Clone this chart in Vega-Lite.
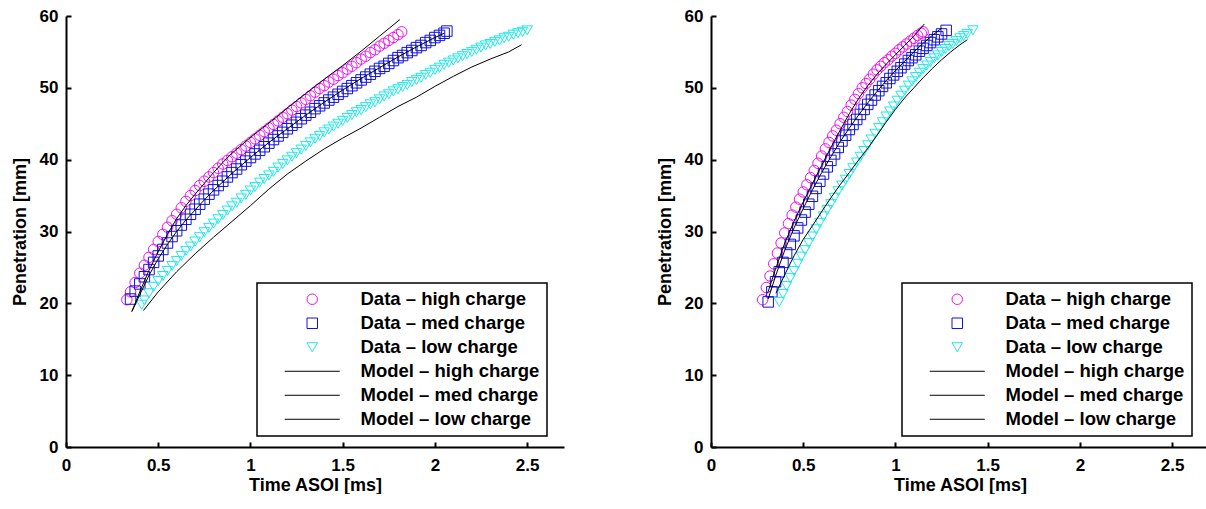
{
"$schema": "https://vega.github.io/schema/vega-lite/v6.json",
"padding": {"left": 11, "top": 7, "right": 0, "bottom": 0},
"background": "white",
"config": {
 "view": {"stroke": null},
 "font": "Liberation Sans",
 "axis": {"domainColor": "black", "domainWidth": 2, "tickColor": "black", "tickWidth": 2, "tickSize": -5, "grid": false, "labelFont": "Liberation Sans", "labelFontSize": 17, "labelFontWeight": "bold", "labelColor": "black", "titleFont": "Liberation Sans", "titleFontSize": 18, "titleFontWeight": "bold", "titleColor": "black", "labelFlush": false},
 "axisX": {"labelPadding": 15, "titlePadding": 3},
 "axisY": {"labelPadding": 13, "titlePadding": 10},
 "legend": {"strokeColor": "black", "strokeWidth": 1.5, "fillColor": "white", "padding": 7, "rowPadding": 5, "labelFont": "Liberation Sans", "labelFontSize": 18.5, "labelFontWeight": "bold", "labelColor": "black", "symbolOffset": 39, "labelOffset": 39, "symbolSize": 110, "symbolStrokeWidth": 1, "labelLimit": 0}
},
"datasets": {
"left": [
{"s":"dh","t":0.33,"v":20.5},{"s":"dh","t":0.35,"v":21.6},{"s":"dh","t":0.375,"v":22.9},{"s":"dh","t":0.4,"v":24.2},{"s":"dh","t":0.425,"v":25.3},{"s":"dh","t":0.45,"v":26.4},{"s":"dh","t":0.475,"v":27.5},{"s":"dh","t":0.5,"v":28.6},{"s":"dh","t":0.525,"v":29.6},{"s":"dh","t":0.55,"v":30.6},{"s":"dh","t":0.575,"v":31.5},{"s":"dh","t":0.6,"v":32.4},{"s":"dh","t":0.625,"v":33.3},{"s":"dh","t":0.65,"v":34.2},{"s":"dh","t":0.675,"v":35.0},{"s":"dh","t":0.7,"v":35.7},{"s":"dh","t":0.725,"v":36.4},{"s":"dh","t":0.75,"v":37.0},{"s":"dh","t":0.775,"v":37.6},{"s":"dh","t":0.8,"v":38.2},{"s":"dh","t":0.825,"v":38.8},{"s":"dh","t":0.85,"v":39.4},{"s":"dh","t":0.875,"v":39.9},{"s":"dh","t":0.9,"v":40.4},{"s":"dh","t":0.925,"v":40.9},{"s":"dh","t":0.95,"v":41.4},{"s":"dh","t":0.975,"v":41.9},{"s":"dh","t":1.0,"v":42.4},{"s":"dh","t":1.025,"v":42.9},{"s":"dh","t":1.05,"v":43.4},{"s":"dh","t":1.075,"v":43.9},{"s":"dh","t":1.1,"v":44.4},{"s":"dh","t":1.125,"v":44.9},{"s":"dh","t":1.15,"v":45.4},{"s":"dh","t":1.175,"v":45.9},{"s":"dh","t":1.2,"v":46.4},{"s":"dh","t":1.225,"v":46.9},{"s":"dh","t":1.25,"v":47.4},{"s":"dh","t":1.275,"v":47.9},{"s":"dh","t":1.3,"v":48.4},{"s":"dh","t":1.325,"v":48.9},{"s":"dh","t":1.35,"v":49.4},{"s":"dh","t":1.375,"v":49.9},{"s":"dh","t":1.4,"v":50.3},{"s":"dh","t":1.425,"v":50.8},{"s":"dh","t":1.45,"v":51.2},{"s":"dh","t":1.475,"v":51.7},{"s":"dh","t":1.5,"v":52.1},{"s":"dh","t":1.525,"v":52.6},{"s":"dh","t":1.55,"v":53.0},{"s":"dh","t":1.575,"v":53.5},{"s":"dh","t":1.6,"v":54.0},{"s":"dh","t":1.625,"v":54.4},{"s":"dh","t":1.65,"v":54.9},{"s":"dh","t":1.675,"v":55.3},{"s":"dh","t":1.7,"v":55.8},{"s":"dh","t":1.725,"v":56.2},{"s":"dh","t":1.75,"v":56.6},{"s":"dh","t":1.775,"v":57.0},{"s":"dh","t":1.8,"v":57.4},{"s":"dh","t":1.82,"v":57.8},
{"s":"dm","t":0.35,"v":20.6},{"s":"dm","t":0.375,"v":21.7},{"s":"dm","t":0.4,"v":22.7},{"s":"dm","t":0.425,"v":23.7},{"s":"dm","t":0.45,"v":24.7},{"s":"dm","t":0.475,"v":25.7},{"s":"dm","t":0.5,"v":26.6},{"s":"dm","t":0.525,"v":27.5},{"s":"dm","t":0.55,"v":28.4},{"s":"dm","t":0.575,"v":29.3},{"s":"dm","t":0.6,"v":30.1},{"s":"dm","t":0.625,"v":30.9},{"s":"dm","t":0.65,"v":31.7},{"s":"dm","t":0.675,"v":32.4},{"s":"dm","t":0.7,"v":33.1},{"s":"dm","t":0.725,"v":33.8},{"s":"dm","t":0.75,"v":34.5},{"s":"dm","t":0.775,"v":35.2},{"s":"dm","t":0.8,"v":35.8},{"s":"dm","t":0.825,"v":36.4},{"s":"dm","t":0.85,"v":37.0},{"s":"dm","t":0.875,"v":37.6},{"s":"dm","t":0.9,"v":38.2},{"s":"dm","t":0.925,"v":38.7},{"s":"dm","t":0.95,"v":39.3},{"s":"dm","t":0.975,"v":39.8},{"s":"dm","t":1.0,"v":40.3},{"s":"dm","t":1.025,"v":40.8},{"s":"dm","t":1.05,"v":41.3},{"s":"dm","t":1.075,"v":41.8},{"s":"dm","t":1.1,"v":42.3},{"s":"dm","t":1.125,"v":42.8},{"s":"dm","t":1.15,"v":43.3},{"s":"dm","t":1.175,"v":43.8},{"s":"dm","t":1.2,"v":44.3},{"s":"dm","t":1.225,"v":44.8},{"s":"dm","t":1.25,"v":45.2},{"s":"dm","t":1.275,"v":45.7},{"s":"dm","t":1.3,"v":46.2},{"s":"dm","t":1.325,"v":46.6},{"s":"dm","t":1.35,"v":47.1},{"s":"dm","t":1.375,"v":47.5},{"s":"dm","t":1.4,"v":47.9},{"s":"dm","t":1.425,"v":48.3},{"s":"dm","t":1.45,"v":48.7},{"s":"dm","t":1.475,"v":49.1},{"s":"dm","t":1.5,"v":49.5},{"s":"dm","t":1.525,"v":49.9},{"s":"dm","t":1.55,"v":50.3},{"s":"dm","t":1.575,"v":50.7},{"s":"dm","t":1.6,"v":51.1},{"s":"dm","t":1.625,"v":51.5},{"s":"dm","t":1.65,"v":51.9},{"s":"dm","t":1.675,"v":52.3},{"s":"dm","t":1.7,"v":52.7},{"s":"dm","t":1.725,"v":53.0},{"s":"dm","t":1.75,"v":53.4},{"s":"dm","t":1.775,"v":53.8},{"s":"dm","t":1.8,"v":54.2},{"s":"dm","t":1.825,"v":54.5},{"s":"dm","t":1.85,"v":54.9},{"s":"dm","t":1.875,"v":55.2},{"s":"dm","t":1.9,"v":55.6},{"s":"dm","t":1.925,"v":55.9},{"s":"dm","t":1.95,"v":56.3},{"s":"dm","t":1.975,"v":56.6},{"s":"dm","t":2.0,"v":57.0},{"s":"dm","t":2.025,"v":57.3},{"s":"dm","t":2.05,"v":57.6},{"s":"dm","t":2.065,"v":57.9},
{"s":"dl","t":0.41,"v":19.8},{"s":"dl","t":0.425,"v":20.4},{"s":"dl","t":0.45,"v":21.4},{"s":"dl","t":0.475,"v":22.3},{"s":"dl","t":0.5,"v":23.1},{"s":"dl","t":0.525,"v":23.8},{"s":"dl","t":0.55,"v":24.5},{"s":"dl","t":0.575,"v":25.2},{"s":"dl","t":0.6,"v":25.9},{"s":"dl","t":0.625,"v":26.6},{"s":"dl","t":0.65,"v":27.3},{"s":"dl","t":0.675,"v":27.9},{"s":"dl","t":0.7,"v":28.6},{"s":"dl","t":0.725,"v":29.2},{"s":"dl","t":0.75,"v":29.9},{"s":"dl","t":0.775,"v":30.5},{"s":"dl","t":0.8,"v":31.1},{"s":"dl","t":0.825,"v":31.7},{"s":"dl","t":0.85,"v":32.3},{"s":"dl","t":0.875,"v":32.9},{"s":"dl","t":0.9,"v":33.5},{"s":"dl","t":0.925,"v":34.0},{"s":"dl","t":0.95,"v":34.6},{"s":"dl","t":0.975,"v":35.1},{"s":"dl","t":1.0,"v":35.7},{"s":"dl","t":1.025,"v":36.2},{"s":"dl","t":1.05,"v":36.8},{"s":"dl","t":1.075,"v":37.3},{"s":"dl","t":1.1,"v":37.8},{"s":"dl","t":1.125,"v":38.3},{"s":"dl","t":1.15,"v":38.9},{"s":"dl","t":1.175,"v":39.4},{"s":"dl","t":1.2,"v":39.9},{"s":"dl","t":1.225,"v":40.4},{"s":"dl","t":1.25,"v":40.9},{"s":"dl","t":1.275,"v":41.4},{"s":"dl","t":1.3,"v":41.9},{"s":"dl","t":1.325,"v":42.4},{"s":"dl","t":1.35,"v":42.9},{"s":"dl","t":1.375,"v":43.3},{"s":"dl","t":1.4,"v":43.8},{"s":"dl","t":1.425,"v":44.2},{"s":"dl","t":1.45,"v":44.6},{"s":"dl","t":1.475,"v":45.0},{"s":"dl","t":1.5,"v":45.4},{"s":"dl","t":1.525,"v":45.8},{"s":"dl","t":1.55,"v":46.2},{"s":"dl","t":1.575,"v":46.6},{"s":"dl","t":1.6,"v":46.9},{"s":"dl","t":1.625,"v":47.3},{"s":"dl","t":1.65,"v":47.7},{"s":"dl","t":1.675,"v":48.0},{"s":"dl","t":1.7,"v":48.4},{"s":"dl","t":1.725,"v":48.8},{"s":"dl","t":1.75,"v":49.1},{"s":"dl","t":1.775,"v":49.5},{"s":"dl","t":1.8,"v":49.8},{"s":"dl","t":1.825,"v":50.1},{"s":"dl","t":1.85,"v":50.4},{"s":"dl","t":1.875,"v":50.8},{"s":"dl","t":1.9,"v":51.1},{"s":"dl","t":1.925,"v":51.4},{"s":"dl","t":1.95,"v":51.8},{"s":"dl","t":1.975,"v":52.1},{"s":"dl","t":2.0,"v":52.5},{"s":"dl","t":2.025,"v":52.8},{"s":"dl","t":2.05,"v":53.2},{"s":"dl","t":2.075,"v":53.5},{"s":"dl","t":2.1,"v":53.8},{"s":"dl","t":2.125,"v":54.1},{"s":"dl","t":2.15,"v":54.4},{"s":"dl","t":2.175,"v":54.7},{"s":"dl","t":2.2,"v":55.0},{"s":"dl","t":2.225,"v":55.3},{"s":"dl","t":2.25,"v":55.6},{"s":"dl","t":2.275,"v":55.9},{"s":"dl","t":2.3,"v":56.1},{"s":"dl","t":2.325,"v":56.4},{"s":"dl","t":2.35,"v":56.6},{"s":"dl","t":2.375,"v":56.9},{"s":"dl","t":2.4,"v":57.1},{"s":"dl","t":2.425,"v":57.4},{"s":"dl","t":2.45,"v":57.6},{"s":"dl","t":2.475,"v":57.8},{"s":"dl","t":2.5,"v":58.0},
{"s":"mh","t":0.356,"v":18.8},{"s":"mh","t":0.4,"v":21.6},{"s":"mh","t":0.45,"v":24.6},{"s":"mh","t":0.5,"v":27.2},{"s":"mh","t":0.55,"v":29.6},{"s":"mh","t":0.6,"v":31.8},{"s":"mh","t":0.65,"v":33.6},{"s":"mh","t":0.7,"v":35.2},{"s":"mh","t":0.75,"v":36.7},{"s":"mh","t":0.8,"v":38.2},{"s":"mh","t":0.85,"v":39.6},{"s":"mh","t":0.9,"v":40.9},{"s":"mh","t":0.95,"v":42.0},{"s":"mh","t":1.0,"v":43.1},{"s":"mh","t":1.05,"v":44.1},{"s":"mh","t":1.1,"v":45.1},{"s":"mh","t":1.15,"v":46.1},{"s":"mh","t":1.2,"v":47.2},{"s":"mh","t":1.3,"v":49.2},{"s":"mh","t":1.4,"v":51.2},{"s":"mh","t":1.5,"v":53.1},{"s":"mh","t":1.6,"v":55.1},{"s":"mh","t":1.7,"v":57.2},{"s":"mh","t":1.81,"v":59.5},
{"s":"mm","t":0.36,"v":19.0},{"s":"mm","t":0.4,"v":21.2},{"s":"mm","t":0.45,"v":23.9},{"s":"mm","t":0.5,"v":26.2},{"s":"mm","t":0.55,"v":28.2},{"s":"mm","t":0.6,"v":30.0},{"s":"mm","t":0.65,"v":31.6},{"s":"mm","t":0.7,"v":33.0},{"s":"mm","t":0.75,"v":34.4},{"s":"mm","t":0.8,"v":35.7},{"s":"mm","t":0.85,"v":36.9},{"s":"mm","t":0.9,"v":38.1},{"s":"mm","t":1.0,"v":40.3},{"s":"mm","t":1.1,"v":42.4},{"s":"mm","t":1.2,"v":44.3},{"s":"mm","t":1.3,"v":46.2},{"s":"mm","t":1.4,"v":48.0},{"s":"mm","t":1.5,"v":49.7},{"s":"mm","t":1.6,"v":51.3},{"s":"mm","t":1.7,"v":52.8},{"s":"mm","t":1.8,"v":54.3},{"s":"mm","t":1.9,"v":55.7},{"s":"mm","t":2.0,"v":57.0},{"s":"mm","t":2.05,"v":57.6},
{"s":"ml","t":0.42,"v":19.0},{"s":"ml","t":0.5,"v":21.6},{"s":"ml","t":0.6,"v":24.4},{"s":"ml","t":0.7,"v":26.9},{"s":"ml","t":0.8,"v":29.2},{"s":"ml","t":0.9,"v":31.4},{"s":"ml","t":1.0,"v":33.6},{"s":"ml","t":1.1,"v":35.9},{"s":"ml","t":1.2,"v":38.0},{"s":"ml","t":1.3,"v":39.8},{"s":"ml","t":1.4,"v":41.5},{"s":"ml","t":1.5,"v":43.0},{"s":"ml","t":1.6,"v":44.4},{"s":"ml","t":1.7,"v":45.9},{"s":"ml","t":1.8,"v":47.4},{"s":"ml","t":1.9,"v":48.7},{"s":"ml","t":2.0,"v":50.2},{"s":"ml","t":2.1,"v":51.6},{"s":"ml","t":2.2,"v":52.9},{"s":"ml","t":2.3,"v":54.0},{"s":"ml","t":2.4,"v":55.0},{"s":"ml","t":2.47,"v":56.0}
],
"right": [
{"s":"dh","t":0.28,"v":20.5},{"s":"dh","t":0.3,"v":22.2},{"s":"dh","t":0.32,"v":23.8},{"s":"dh","t":0.34,"v":25.5},{"s":"dh","t":0.36,"v":27.0},{"s":"dh","t":0.38,"v":28.4},{"s":"dh","t":0.4,"v":29.8},{"s":"dh","t":0.42,"v":31.1},{"s":"dh","t":0.44,"v":32.3},{"s":"dh","t":0.46,"v":33.4},{"s":"dh","t":0.48,"v":34.5},{"s":"dh","t":0.5,"v":35.5},{"s":"dh","t":0.52,"v":36.5},{"s":"dh","t":0.54,"v":37.5},{"s":"dh","t":0.56,"v":38.5},{"s":"dh","t":0.58,"v":39.5},{"s":"dh","t":0.6,"v":40.5},{"s":"dh","t":0.62,"v":41.5},{"s":"dh","t":0.64,"v":42.4},{"s":"dh","t":0.66,"v":43.3},{"s":"dh","t":0.68,"v":44.1},{"s":"dh","t":0.7,"v":45.0},{"s":"dh","t":0.72,"v":45.9},{"s":"dh","t":0.74,"v":46.7},{"s":"dh","t":0.76,"v":47.6},{"s":"dh","t":0.78,"v":48.4},{"s":"dh","t":0.8,"v":49.2},{"s":"dh","t":0.82,"v":50.0},{"s":"dh","t":0.84,"v":50.6},{"s":"dh","t":0.86,"v":51.2},{"s":"dh","t":0.88,"v":51.9},{"s":"dh","t":0.9,"v":52.5},{"s":"dh","t":0.92,"v":53.0},{"s":"dh","t":0.94,"v":53.5},{"s":"dh","t":0.96,"v":53.9},{"s":"dh","t":0.98,"v":54.4},{"s":"dh","t":1.0,"v":54.8},{"s":"dh","t":1.02,"v":55.3},{"s":"dh","t":1.04,"v":55.7},{"s":"dh","t":1.06,"v":56.1},{"s":"dh","t":1.08,"v":56.5},{"s":"dh","t":1.1,"v":56.9},{"s":"dh","t":1.12,"v":57.3},{"s":"dh","t":1.14,"v":57.6},{"s":"dh","t":1.15,"v":57.8},
{"s":"dm","t":0.31,"v":20.2},{"s":"dm","t":0.33,"v":21.6},{"s":"dm","t":0.35,"v":23.0},{"s":"dm","t":0.37,"v":24.4},{"s":"dm","t":0.39,"v":25.7},{"s":"dm","t":0.41,"v":27.0},{"s":"dm","t":0.43,"v":28.2},{"s":"dm","t":0.45,"v":29.4},{"s":"dm","t":0.47,"v":30.5},{"s":"dm","t":0.49,"v":31.6},{"s":"dm","t":0.51,"v":32.7},{"s":"dm","t":0.53,"v":33.8},{"s":"dm","t":0.55,"v":34.9},{"s":"dm","t":0.57,"v":36.0},{"s":"dm","t":0.59,"v":37.0},{"s":"dm","t":0.61,"v":38.0},{"s":"dm","t":0.63,"v":39.0},{"s":"dm","t":0.65,"v":39.9},{"s":"dm","t":0.67,"v":40.8},{"s":"dm","t":0.69,"v":41.7},{"s":"dm","t":0.71,"v":42.6},{"s":"dm","t":0.73,"v":43.4},{"s":"dm","t":0.75,"v":44.2},{"s":"dm","t":0.77,"v":44.9},{"s":"dm","t":0.79,"v":45.6},{"s":"dm","t":0.81,"v":46.3},{"s":"dm","t":0.83,"v":47.0},{"s":"dm","t":0.85,"v":47.7},{"s":"dm","t":0.87,"v":48.3},{"s":"dm","t":0.89,"v":49.0},{"s":"dm","t":0.91,"v":49.6},{"s":"dm","t":0.93,"v":50.2},{"s":"dm","t":0.95,"v":50.7},{"s":"dm","t":0.97,"v":51.3},{"s":"dm","t":0.99,"v":51.8},{"s":"dm","t":1.01,"v":52.3},{"s":"dm","t":1.03,"v":52.8},{"s":"dm","t":1.05,"v":53.3},{"s":"dm","t":1.07,"v":53.8},{"s":"dm","t":1.09,"v":54.2},{"s":"dm","t":1.11,"v":54.6},{"s":"dm","t":1.13,"v":55.1},{"s":"dm","t":1.15,"v":55.5},{"s":"dm","t":1.17,"v":55.9},{"s":"dm","t":1.19,"v":56.3},{"s":"dm","t":1.21,"v":56.7},{"s":"dm","t":1.23,"v":57.1},{"s":"dm","t":1.25,"v":57.5},{"s":"dm","t":1.275,"v":58.0},
{"s":"dl","t":0.37,"v":20.2},{"s":"dl","t":0.39,"v":21.3},{"s":"dl","t":0.41,"v":22.4},{"s":"dl","t":0.43,"v":23.5},{"s":"dl","t":0.45,"v":24.5},{"s":"dl","t":0.47,"v":25.5},{"s":"dl","t":0.49,"v":26.5},{"s":"dl","t":0.51,"v":27.4},{"s":"dl","t":0.53,"v":28.4},{"s":"dl","t":0.55,"v":29.3},{"s":"dl","t":0.57,"v":30.3},{"s":"dl","t":0.59,"v":31.2},{"s":"dl","t":0.61,"v":32.1},{"s":"dl","t":0.63,"v":33.0},{"s":"dl","t":0.65,"v":33.8},{"s":"dl","t":0.67,"v":34.7},{"s":"dl","t":0.69,"v":35.6},{"s":"dl","t":0.71,"v":36.4},{"s":"dl","t":0.73,"v":37.2},{"s":"dl","t":0.75,"v":38.0},{"s":"dl","t":0.77,"v":38.8},{"s":"dl","t":0.79,"v":39.6},{"s":"dl","t":0.81,"v":40.4},{"s":"dl","t":0.83,"v":41.2},{"s":"dl","t":0.85,"v":42.0},{"s":"dl","t":0.87,"v":42.8},{"s":"dl","t":0.89,"v":43.6},{"s":"dl","t":0.91,"v":44.4},{"s":"dl","t":0.93,"v":45.2},{"s":"dl","t":0.95,"v":46.0},{"s":"dl","t":0.97,"v":46.7},{"s":"dl","t":0.99,"v":47.4},{"s":"dl","t":1.01,"v":48.2},{"s":"dl","t":1.03,"v":48.9},{"s":"dl","t":1.05,"v":49.6},{"s":"dl","t":1.07,"v":50.3},{"s":"dl","t":1.09,"v":50.9},{"s":"dl","t":1.11,"v":51.5},{"s":"dl","t":1.13,"v":52.1},{"s":"dl","t":1.15,"v":52.6},{"s":"dl","t":1.17,"v":53.1},{"s":"dl","t":1.19,"v":53.6},{"s":"dl","t":1.21,"v":54.1},{"s":"dl","t":1.23,"v":54.5},{"s":"dl","t":1.25,"v":55.0},{"s":"dl","t":1.27,"v":55.4},{"s":"dl","t":1.29,"v":55.8},{"s":"dl","t":1.31,"v":56.1},{"s":"dl","t":1.33,"v":56.5},{"s":"dl","t":1.35,"v":56.9},{"s":"dl","t":1.37,"v":57.2},{"s":"dl","t":1.39,"v":57.5},{"s":"dl","t":1.42,"v":58.0},
{"s":"mh","t":0.307,"v":21.4},{"s":"mh","t":0.35,"v":24.8},{"s":"mh","t":0.4,"v":28.4},{"s":"mh","t":0.45,"v":31.4},{"s":"mh","t":0.5,"v":34.1},{"s":"mh","t":0.55,"v":36.7},{"s":"mh","t":0.6,"v":39.2},{"s":"mh","t":0.65,"v":41.7},{"s":"mh","t":0.7,"v":44.1},{"s":"mh","t":0.75,"v":46.4},{"s":"mh","t":0.8,"v":48.5},{"s":"mh","t":0.85,"v":50.3},{"s":"mh","t":0.9,"v":51.9},{"s":"mh","t":0.95,"v":53.3},{"s":"mh","t":1.0,"v":54.6},{"s":"mh","t":1.05,"v":55.9},{"s":"mh","t":1.1,"v":57.2},{"s":"mh","t":1.157,"v":58.9},
{"s":"mm","t":0.31,"v":20.6},{"s":"mm","t":0.35,"v":23.8},{"s":"mm","t":0.4,"v":27.4},{"s":"mm","t":0.45,"v":30.5},{"s":"mm","t":0.5,"v":33.2},{"s":"mm","t":0.55,"v":35.8},{"s":"mm","t":0.6,"v":38.2},{"s":"mm","t":0.65,"v":40.4},{"s":"mm","t":0.7,"v":42.5},{"s":"mm","t":0.75,"v":44.4},{"s":"mm","t":0.8,"v":46.2},{"s":"mm","t":0.85,"v":47.9},{"s":"mm","t":0.9,"v":49.5},{"s":"mm","t":0.95,"v":51.0},{"s":"mm","t":1.0,"v":52.4},{"s":"mm","t":1.05,"v":53.7},{"s":"mm","t":1.1,"v":55.0},{"s":"mm","t":1.15,"v":56.2},{"s":"mm","t":1.2,"v":57.3},{"s":"mm","t":1.25,"v":58.3},
{"s":"ml","t":0.352,"v":21.4},{"s":"ml","t":0.4,"v":24.0},{"s":"ml","t":0.45,"v":26.6},{"s":"ml","t":0.5,"v":28.9},{"s":"ml","t":0.55,"v":30.8},{"s":"ml","t":0.606,"v":33.0},{"s":"ml","t":0.65,"v":34.7},{"s":"ml","t":0.7,"v":36.5},{"s":"ml","t":0.75,"v":38.2},{"s":"ml","t":0.787,"v":39.5},{"s":"ml","t":0.85,"v":41.6},{"s":"ml","t":0.9,"v":43.4},{"s":"ml","t":0.949,"v":45.2},{"s":"ml","t":1.0,"v":47.0},{"s":"ml","t":1.05,"v":48.6},{"s":"ml","t":1.1,"v":50.0},{"s":"ml","t":1.15,"v":51.4},{"s":"ml","t":1.2,"v":52.7},{"s":"ml","t":1.25,"v":53.9},{"s":"ml","t":1.3,"v":55.0},{"s":"ml","t":1.35,"v":56.0},{"s":"ml","t":1.39,"v":56.7}
]
},
"spacing": 92,
"resolve": {"scale": {"color": "independent", "shape": "independent"}, "legend": {"color": "independent", "shape": "independent"}},
"hconcat": [
{
 "width": 498, "height": 431,
 "data": {"name": "left"},
 "encoding": {
  "x": {"field": "t", "type": "quantitative", "scale": {"domain": [0, 2.7], "nice": false, "zero": false}, "axis": {"values": [0, 0.5, 1, 1.5, 2, 2.5], "format": "~g", "title": "Time ASOI [ms]"}},
  "y": {"field": "v", "type": "quantitative", "scale": {"domain": [0, 60], "nice": false}, "axis": {"values": [0, 10, 20, 30, 40, 50, 60], "title": "Penetration [mm]"}},
  "color": {"field": "s", "type": "nominal", "scale": {"domain": ["dh", "dm", "dl", "mh", "mm", "ml"], "range": ["#f010f0", "#1010e0", "#20e8e8", "#000000", "#000000", "#000000"]}, "legend": {"title": null, "orient": "none", "legendX": 191, "legendY": 267, "labelExpr": "datum.value == 'dh' ? 'Data – high charge' : datum.value == 'dm' ? 'Data – med charge' : datum.value == 'dl' ? 'Data – low charge' : datum.value == 'mh' ? 'Model – high charge' : datum.value == 'mm' ? 'Model – med charge' : 'Model – low charge'"}}
 },
 "layer": [
  {"transform": [{"filter": "indexof(['dh','dm','dl'], datum.s) >= 0"}],
   "mark": {"type": "point", "filled": false, "size": 110, "strokeWidth": 1, "opacity": 1},
   "encoding": {"shape": {"field": "s", "type": "nominal", "scale": {"domain": ["dh", "dm", "dl", "mh", "mm", "ml"], "range": ["circle", "square", "triangle-down", "M-5.25,0H5.25", "M-5.25,0H5.25", "M-5.25,0H5.25"]}, "legend": {"title": null, "orient": "none", "legendX": 191, "legendY": 267, "labelExpr": "datum.value == 'dh' ? 'Data – high charge' : datum.value == 'dm' ? 'Data – med charge' : datum.value == 'dl' ? 'Data – low charge' : datum.value == 'mh' ? 'Model – high charge' : datum.value == 'mm' ? 'Model – med charge' : 'Model – low charge'"}}}},
  {"transform": [{"filter": "indexof(['mh','mm','ml'], datum.s) >= 0"}],
   "mark": {"type": "line", "strokeWidth": 1},
   "encoding": {}}
 ]
},
{
 "width": 498, "height": 431,
 "data": {"name": "right"},
 "encoding": {
  "x": {"field": "t", "type": "quantitative", "scale": {"domain": [0, 2.7], "nice": false, "zero": false}, "axis": {"values": [0, 0.5, 1, 1.5, 2, 2.5], "format": "~g", "title": "Time ASOI [ms]"}},
  "y": {"field": "v", "type": "quantitative", "scale": {"domain": [0, 60], "nice": false}, "axis": {"values": [0, 10, 20, 30, 40, 50, 60], "title": "Penetration [mm]"}},
  "color": {"field": "s", "type": "nominal", "scale": {"domain": ["dh", "dm", "dl", "mh", "mm", "ml"], "range": ["#f010f0", "#1010e0", "#20e8e8", "#000000", "#000000", "#000000"]}, "legend": {"title": null, "orient": "none", "legendX": 191, "legendY": 267, "labelExpr": "datum.value == 'dh' ? 'Data – high charge' : datum.value == 'dm' ? 'Data – med charge' : datum.value == 'dl' ? 'Data – low charge' : datum.value == 'mh' ? 'Model – high charge' : datum.value == 'mm' ? 'Model – med charge' : 'Model – low charge'"}}
 },
 "layer": [
  {"transform": [{"filter": "indexof(['dh','dm','dl'], datum.s) >= 0"}],
   "mark": {"type": "point", "filled": false, "size": 110, "strokeWidth": 1, "opacity": 1},
   "encoding": {"shape": {"field": "s", "type": "nominal", "scale": {"domain": ["dh", "dm", "dl", "mh", "mm", "ml"], "range": ["circle", "square", "triangle-down", "M-5.25,0H5.25", "M-5.25,0H5.25", "M-5.25,0H5.25"]}, "legend": {"title": null, "orient": "none", "legendX": 191, "legendY": 267, "labelExpr": "datum.value == 'dh' ? 'Data – high charge' : datum.value == 'dm' ? 'Data – med charge' : datum.value == 'dl' ? 'Data – low charge' : datum.value == 'mh' ? 'Model – high charge' : datum.value == 'mm' ? 'Model – med charge' : 'Model – low charge'"}}}},
  {"transform": [{"filter": "indexof(['mh','mm','ml'], datum.s) >= 0"}],
   "mark": {"type": "line", "strokeWidth": 1},
   "encoding": {}}
 ]
}
]
}
